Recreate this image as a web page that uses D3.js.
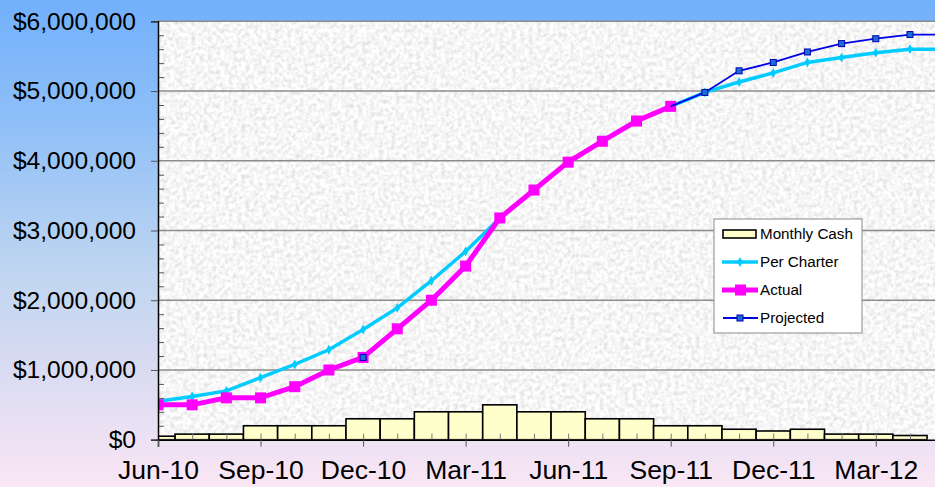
<!DOCTYPE html>
<html>
<head>
<meta charset="utf-8">
<script src="https://cdn.jsdelivr.net/npm/d3@7"></script>
<style>
    html, body { margin: 0; padding: 0; }
    svg { display: block; font-family: "Liberation Sans", Arial, sans-serif; }
</style>
</head>
<body>
<svg id="cash-chart" width="935" height="487"></svg>
<script>
// month categories, Jun-10 .. May-12
var months = ["Jun-10", "Jul-10", "Aug-10", "Sep-10", "Oct-10", "Nov-10", "Dec-10", "Jan-11",
    "Feb-11", "Mar-11", "Apr-11", "May-11", "Jun-11", "Jul-11", "Aug-11", "Sep-11",
    "Oct-11", "Nov-11", "Dec-11", "Jan-12", "Feb-12", "Mar-12", "Apr-12", "May-12"];

var monthlyCash = [50000, 80000, 80000, 200000, 200000, 200000, 300000, 300000, 400000, 400000,
    500000, 400000, 400000, 300000, 300000, 200000, 200000, 150000, 125000, 150000,
    80000, 80000, 60000, null];

var perCharter = [550000, 620000, 700000, 890000, 1080000, 1290000, 1580000, 1890000, 2280000, 2700000,
    3180000, 3580000, 3980000, 4280000, 4570000, 4780000, 4980000, 5130000, 5260000, 5410000,
    5480000, 5550000, 5600000, 5600000];

var actual = [500000, 500000, 600000, 600000, 760000, 1000000, 1180000, 1590000, 2000000, 2490000,
    3180000, 3580000, 3980000, 4280000, 4570000, 4780000, null, null, null, null,
    null, null, null, null];

var projected = [null, null, null, null, null, null, 1180000, null, null, null,
    null, null, null, null, null, 4780000, 4980000, 5290000, 5410000, 5560000,
    5680000, 5750000, 5810000, 5810000];

var yTicks = [0, 1000000, 2000000, 3000000, 4000000, 5000000, 6000000];
var xTickLabels = ["Jun-10", "Sep-10", "Dec-10", "Mar-11", "Jun-11", "Sep-11", "Dec-11", "Mar-12"];

var legendItems = ["Monthly Cash", "Per Charter", "Actual", "Projected"];

var svg = d3.select("svg#cash-chart"),
    width = +svg.attr("width"),
    height = +svg.attr("height");

var plot = {left: 158, top: 21.3, bottom: 439.7, step: 34.18};

var x = d3.scaleLinear().domain([0, months.length - 1])
    .range([plot.left, plot.left + plot.step * (months.length - 1)]);
var y = d3.scaleLinear().domain([0, 6000000]).range([plot.bottom, plot.top]);

var defs = svg.append("defs");

// page background, blue to pink
var bg = defs.append("linearGradient").attr("id", "bg-grad")
    .attr("x1", 0).attr("y1", 0).attr("x2", 0).attr("y2", 1);
bg.append("stop").attr("offset", "0%").attr("stop-color", "#72b0fb");
bg.append("stop").attr("offset", "25%").attr("stop-color", "#8fbff8");
bg.append("stop").attr("offset", "55%").attr("stop-color", "#bed5f0");
bg.append("stop").attr("offset", "78%").attr("stop-color", "#dcdcf2");
bg.append("stop").attr("offset", "100%").attr("stop-color", "#fae6f5");

// granite-ish texture for the plot area
var granite = defs.append("filter").attr("id", "granite")
    .attr("x", 0).attr("y", 0).attr("width", 1).attr("height", 1);
granite.append("feTurbulence")
    .attr("type", "fractalNoise")
    .attr("baseFrequency", 0.24)
    .attr("numOctaves", 3)
    .attr("seed", 4)
    .attr("result", "noise");
granite.append("feColorMatrix")
    .attr("in", "noise")
    .attr("type", "matrix")
    .attr("values", "0.5 0 0 0 0.67  0.5 0 0 0 0.67  0.5 0 0 0 0.67  0 0 0 0 1");

defs.append("clipPath").attr("id", "plot-clip")
    .append("rect")
    .attr("x", plot.left).attr("y", plot.top - 10)
    .attr("width", width - plot.left + 20).attr("height", plot.bottom - plot.top + 10);

svg.append("rect")
    .attr("width", width).attr("height", height)
    .attr("fill", "url(#bg-grad)");

svg.append("rect")
    .attr("x", plot.left).attr("y", plot.top)
    .attr("width", width - plot.left).attr("height", plot.bottom - plot.top)
    .attr("filter", "url(#granite)");

// gridlines
svg.append("g")
    .selectAll("line")
    .data(yTicks.slice(1))
    .enter().append("line")
    .attr("x1", plot.left).attr("x2", width)
    .attr("y1", function(d) { return y(d); })
    .attr("y2", function(d) { return y(d); })
    .attr("stroke", "#8c8c8c")
    .attr("stroke-width", 1.5);

var chart = svg.append("g").attr("clip-path", "url(#plot-clip)");

// monthly cash bars, centred on the month
var barW = x(1) - x(0);
chart.selectAll(".bar")
    .data(monthlyCash.map(function(v, i) { return {i: i, v: v}; }).filter(function(d) { return d.v != null; }))
    .enter().append("rect")
    .attr("class", "bar")
    .attr("x", function(d) { return x(d.i) - barW / 2; })
    .attr("y", function(d) { return y(d.v); })
    .attr("width", barW)
    .attr("height", function(d) { return y(0) - y(d.v); })
    .attr("fill", "#ffffcc")
    .attr("stroke", "#000")
    .attr("stroke-width", 1.6);

// minor x ticks, inside
svg.append("g")
    .attr("transform", "translate(0," + plot.bottom + ")")
    .call(d3.axisTop(x).tickValues(d3.range(0, months.length)).tickSize(6).tickFormat(""))
    .call(function(g) {
        g.select(".domain").remove();
        g.selectAll("line").attr("stroke", "#777").attr("stroke-width", 1);
    });

var line = d3.line()
    .defined(function(d) { return d.v != null; })
    .x(function(d) { return x(d.i); })
    .y(function(d) { return y(d.v); });

function series(values) {
    return values.map(function(v, i) { return {i: i, v: v}; });
}

// per charter
chart.append("path")
    .datum(series(perCharter))
    .attr("d", line)
    .attr("fill", "none")
    .attr("stroke", "#00ccff")
    .attr("stroke-width", 3.5);
chart.selectAll(".pc-marker")
    .data(series(perCharter).filter(function(d) { return d.v != null; }))
    .enter().append("path")
    .attr("class", "pc-marker")
    .attr("d", d3.symbol().type(d3.symbolDiamond).size(28))
    .attr("transform", function(d) { return "translate(" + x(d.i) + "," + y(d.v) + ")"; })
    .attr("fill", "#00ccff");

// actual
chart.append("path")
    .datum(series(actual))
    .attr("d", line)
    .attr("fill", "none")
    .attr("stroke", "#ff00ff")
    .attr("stroke-width", 5);
chart.selectAll(".act-marker")
    .data(series(actual).filter(function(d) { return d.v != null; }))
    .enter().append("rect")
    .attr("class", "act-marker")
    .attr("x", function(d) { return x(d.i) - 5.5; })
    .attr("y", function(d) { return y(d.v) - 5.5; })
    .attr("width", 11).attr("height", 11)
    .attr("fill", "#ff00ff");

// projected
chart.append("path")
    .datum(series(projected))
    .attr("d", line)
    .attr("fill", "none")
    .attr("stroke", "#0000e6")
    .attr("stroke-width", 1.8);
chart.selectAll(".proj-marker")
    .data(series(projected).filter(function(d) { return d.v != null && d.i != 15; }))
    .enter().append("rect")
    .attr("class", "proj-marker")
    .attr("x", function(d) { return x(d.i) - 3; })
    .attr("y", function(d) { return y(d.v) - 3; })
    .attr("width", 6).attr("height", 6)
    .attr("fill", "#1a6fd6")
    .attr("stroke", "#0000b0")
    .attr("stroke-width", 1);

// y axis: major ticks outside, minor inside
svg.append("g")
    .attr("transform", "translate(" + plot.left + ",0)")
    .call(d3.axisRight(y).tickValues(d3.range(200000, 6000000, 200000).filter(function(d) { return d % 1000000 != 0; }))
        .tickSize(6).tickFormat(""))
    .call(function(g) {
        g.select(".domain").remove();
        g.selectAll("line").attr("stroke", "#555").attr("stroke-width", 1);
    });

svg.append("g")
    .attr("transform", "translate(" + plot.left + ",0)")
    .call(d3.axisLeft(y).tickValues(yTicks).tickSize(7).tickPadding(15).tickFormat(d3.format("$,")))
    .call(function(g) {
        g.select(".domain").attr("stroke", "#000").attr("stroke-width", 1.5);
        g.selectAll("line").attr("stroke", "#555");
        g.selectAll("text").attr("font-size", 24.6).attr("fill", "#000")
            .attr("font-family", "Liberation Sans, Arial, sans-serif");
    });

// x axis
svg.append("g")
    .attr("transform", "translate(0," + plot.bottom + ")")
    .call(d3.axisBottom(x).tickValues(xTickLabels.map(function(m) { return months.indexOf(m); }))
        .tickSize(7).tickPadding(13.5)
        .tickFormat(function(i) { return months[i]; }))
    .call(function(g) {
        g.select(".domain").attr("stroke", "#000").attr("stroke-width", 1.5);
        g.selectAll("line").attr("stroke", "#555");
        g.selectAll("text").attr("font-size", 26.5).attr("fill", "#000")
            .attr("font-family", "Liberation Sans, Arial, sans-serif");
    });

// legend
var legend = svg.append("g").attr("transform", "translate(714,219)");
legend.append("rect")
    .attr("width", 148).attr("height", 114)
    .attr("fill", "#fff")
    .attr("stroke", "#8a8a8a")
    .attr("stroke-width", 1);

var rows = legend.selectAll(".legend-row")
    .data(legendItems)
    .enter().append("g")
    .attr("class", "legend-row")
    .attr("transform", function(d, i) { return "translate(0," + (15 + i * 28) + ")"; });

rows.append("text")
    .attr("x", 46).attr("y", 0)
    .attr("dy", "0.35em")
    .attr("font-size", 15.2)
    .attr("fill", "#000")
    .text(function(d) { return d; });

rows.each(function(d, i) {
    var g = d3.select(this);
    if (i == 0) {
        g.append("rect").attr("x", 9).attr("y", -4).attr("width", 33).attr("height", 8)
            .attr("fill", "#ffffcc").attr("stroke", "#000").attr("stroke-width", 1.6);
    } else if (i == 1) {
        g.append("line").attr("x1", 8).attr("x2", 44).attr("stroke", "#00ccff").attr("stroke-width", 3.5);
        g.append("path").attr("d", d3.symbol().type(d3.symbolDiamond).size(28)).attr("transform", "translate(26,0)")
            .attr("fill", "#00ccff");
    } else if (i == 2) {
        g.append("line").attr("x1", 8).attr("x2", 44).attr("stroke", "#ff00ff").attr("stroke-width", 5);
        g.append("rect").attr("x", 21).attr("y", -5.5).attr("width", 11).attr("height", 11).attr("fill", "#ff00ff");
    } else {
        g.append("line").attr("x1", 9).attr("x2", 44).attr("stroke", "#0000e6").attr("stroke-width", 1.8);
        g.append("rect").attr("x", 23).attr("y", -3).attr("width", 6).attr("height", 6)
            .attr("fill", "#1a6fd6").attr("stroke", "#0000b0").attr("stroke-width", 1);
    }
});
</script>
</body>
</html>
